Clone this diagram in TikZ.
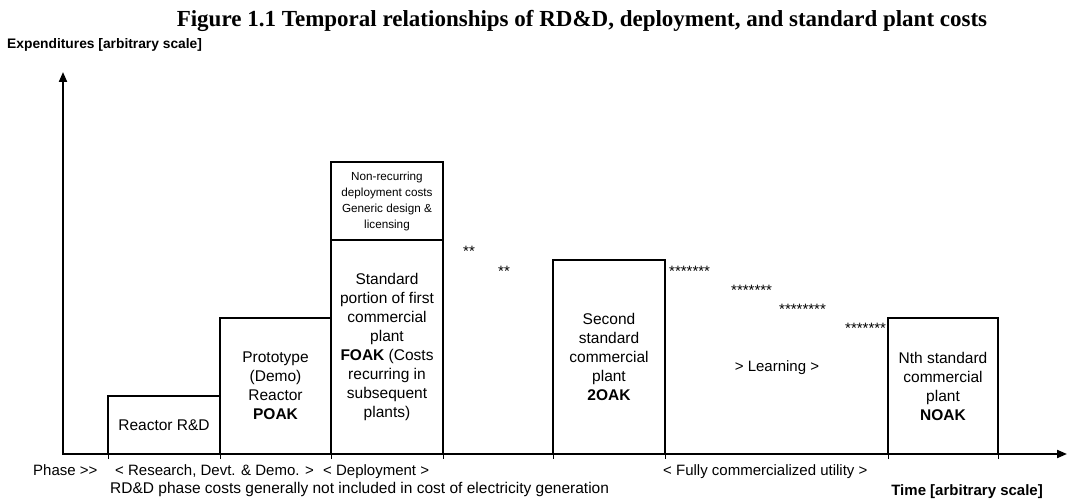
\documentclass[tikz,border=0pt]{standalone}
\usepackage{fontspec}
\setmainfont{Liberation Sans}
\newfontfamily\titlefont{Liberation Serif}
\usetikzlibrary{arrows.meta}
\begin{document}
\begin{tikzpicture}[x=1pt,y=-1pt,
  box/.style={draw, line width=1.6pt, inner sep=0pt, outer sep=0pt, align=center, anchor=south west,
    font=\fontsize{15.5}{19}\selectfont},
  lbl/.style={inner sep=0pt, font=\fontsize{15}{18}\selectfont},
  stars/.style={inner sep=0pt, anchor=base west, font=\fontsize{15}{18}\selectfont},
  axisline/.style={line width=2pt, {Triangle[length=10pt,width=8pt]}-{Triangle[length=10pt,width=8pt]}},
  tickmark/.style={line width=1pt}]
\useasboundingbox (0,0) rectangle (1067,502);
% title
\node[anchor=base, inner sep=0pt, font=\titlefont\bfseries\fontsize{23}{28}\selectfont] (title) at (582,27)
  {Figure 1.1 Temporal relationships of RD\&D, deployment, and standard plant costs};
\node[anchor=base west, inner sep=0pt, font=\bfseries\fontsize{13.8}{17}\selectfont] (exp) at (7,49)
  {Expenditures [arbitrary scale]};
% axes
\coordinate (o) at (63,454);
\coordinate (ytip) at (63,72);
\coordinate (xtip) at (1067,454);
\draw[axisline] (ytip) -- (o) -- (xtip);
% boxes
\node[box, minimum width=112pt, minimum height=58pt] (rd) at (108,454) {Reactor R\&D};
\node[box, minimum width=111pt, minimum height=136pt] (proto) at (220,454)
  {Prototype\\(Demo)\\Reactor\\\textbf{POAK}};
\node[box, minimum width=112pt, minimum height=214pt] (std) at (331,454)
  {Standard\\portion of first\\commercial\\plant\\\textbf{FOAK} (Costs\\recurring in\\subsequent\\plants)};
\node[box, minimum width=112pt, minimum height=78pt, font=\fontsize{11.7}{16}\selectfont] (nonrec) at (331,240)
  {Non-recurring\\deployment costs\\Generic design \&\\licensing};
\node[box, minimum width=112pt, minimum height=194pt] (second) at (553,454)
  {Second\\standard\\commercial\\plant\\\textbf{2OAK}};
\node[box, minimum width=110pt, minimum height=136pt] (nth) at (888,454)
  {Nth standard\\commercial\\plant\\\textbf{NOAK}};
% ticks
\foreach \a in {rd.south west, rd.south east, proto.south east, std.south east,
                second.south west, second.south east, nth.south west, nth.south east}
  \draw[tickmark] (\a) -- ++(0,5);
% stars
\node[stars] (s1) at (463,257) {**};
\node[stars] (s2) at (498,277) {**};
\node[stars] (s3) at (669,277) {*******};
\node[stars] (s4) at (731,296) {*******};
\node[stars] (s5) at (779,315) {********};
\node[stars] (s6) at (845,334) {*******};
\node[lbl] (learn) at (777,368) {> Learning >};
% bottom labels
\node[lbl, anchor=base west] (phase) at (33,475) {Phase >{}>};
\node[lbl, anchor=base west] (rdd) at (115,475) {< Research, Devt. \& Demo. >};
\node[lbl, anchor=base west] (dep) at (323,475) {< Deployment >};
\node[lbl, anchor=base west] (util) at (663,475) {< Fully commercialized utility >};
\node[lbl, anchor=base west, font=\fontsize{15.5}{18}\selectfont] (note) at (110,493)
  {RD\&D phase costs generally not included in cost of electricity generation};
\node[lbl, anchor=base east, font=\bfseries\fontsize{15}{18}\selectfont] (time) at (1043,495)
  {Time [arbitrary scale]};
\end{tikzpicture}
\end{document}
